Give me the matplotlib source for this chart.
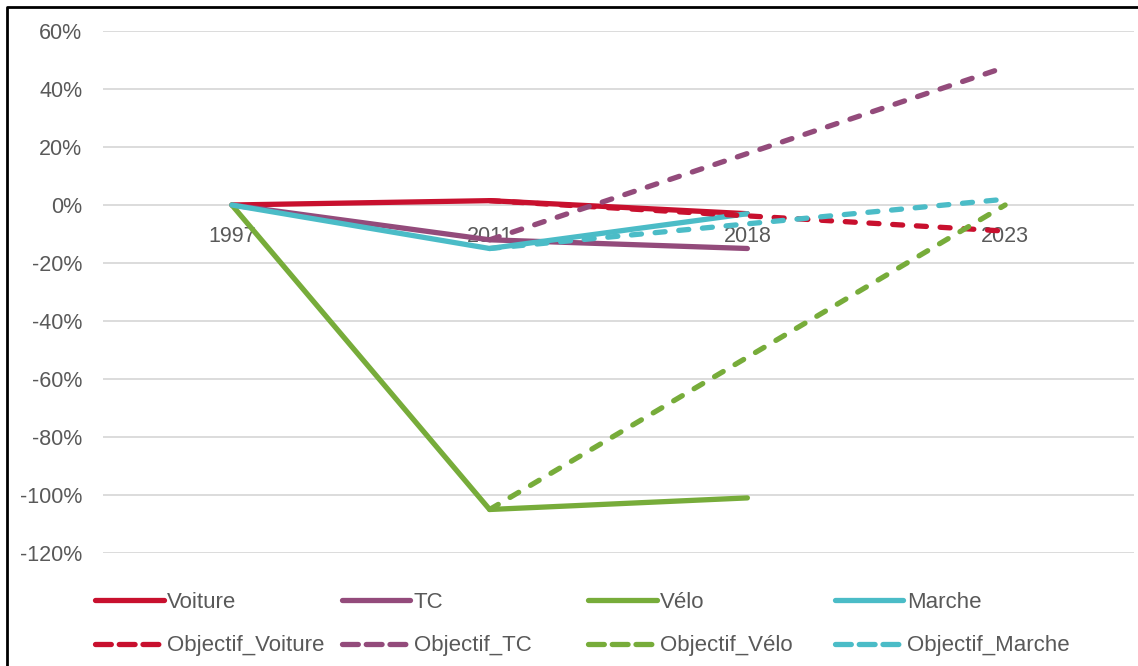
import matplotlib as mpl
import matplotlib.pyplot as plt
import numpy as np
from matplotlib.lines import Line2D

mpl.rcParams["font.family"] = ["Liberation Sans", "DejaVu Sans"]

annees = ["1997", "2011", "2018", "2023"]

# évolution par mode (en %), NaN = pas de valeur
voiture = [0, 1.5, -3, np.nan]
tc = [0, -12, -15, np.nan]
velo = [0, -105, -101, np.nan]
marche = [0, -15, -3, np.nan]

obj_voiture = [np.nan, 1.5, np.nan, -9]
obj_tc = [np.nan, -12, np.nan, 47.5]
obj_velo = [np.nan, -105, np.nan, 0]
obj_marche = [np.nan, -15, np.nan, 2]

rouge = "#C8102E"
violet = "#934B7B"
vert = "#77AC3A"
cyan = "#4BBCC7"
gris = "#595959"

series = [
    ("Voiture", voiture, rouge, "-"),
    ("TC", tc, violet, "-"),
    ("Vélo", velo, vert, "-"),
    ("Marche", marche, cyan, "-"),
    ("Objectif_Voiture", obj_voiture, rouge, "--"),
    ("Objectif_TC", obj_tc, violet, "--"),
    ("Objectif_Vélo", obj_velo, vert, "--"),
    ("Objectif_Marche", obj_marche, cyan, "--"),
]

fig = plt.figure(figsize=(11.38, 6.66), dpi=100)
ax = fig.add_axes([103 / 1138, 1 - 553 / 666, 1031 / 1138, 522 / 666])

x = np.arange(len(annees))
handles = []
for nom, vals, couleur, style in series:
    vals = np.array(vals, dtype=float)
    ok = ~np.isnan(vals)
    kw = dict(color=couleur, lw=3.8, solid_capstyle="round", dash_capstyle="round")
    if style == "--":
        kw["dashes"] = (1.9, 2.6)
    ax.plot(x[ok], vals[ok], **kw)
    h = Line2D([], [], **kw)
    if style == "--":
        h.set_dashes((3.0, 1.5))
    handles.append((h, nom))

ax.set_xlim(-0.5, 3.5)
ax.set_ylim(-120, 60)
ax.set_yticks(np.arange(-120, 61, 20))
ax.set_yticklabels([f"{v}%" for v in range(-120, 61, 20)])
ax.set_xticks(x)
ax.set_xticklabels(annees)

ax.grid(True, axis="y", color="#D9D9D9", lw=1.3)
ax.set_axisbelow(True)
for s in ["top", "right", "left"]:
    ax.spines[s].set_visible(False)
ax.spines["bottom"].set_position(("data", 0))
ax.spines["bottom"].set_visible(False)
ax.tick_params(axis="x", length=0, pad=15, labelsize=15.5, labelcolor=gris)
ax.tick_params(axis="y", length=0, pad=15, labelsize=15.5, labelcolor=gris)

# légende : 2 lignes x 4 colonnes à largeur égale
for i, (h, nom) in enumerate(handles):
    ligne, col = divmod(i, 4)
    fig.legend(handles=[h], labels=[nom], loc="center left",
               bbox_to_anchor=((95 + col * 246.5) / 1138, 1 - (602 + ligne * 44) / 666),
               frameon=False, fontsize=16, labelcolor=gris,
               handlelength=3.1, handletextpad=0.15, borderpad=0, borderaxespad=0)

# cadre (haut et gauche)
fig.add_artist(Line2D([7 / 1138, 7 / 1138, 1], [0, 1 - 7 / 666, 1 - 7 / 666],
                      transform=fig.transFigure, color="black", lw=2))

fig.savefig("out.png", dpi=100)
